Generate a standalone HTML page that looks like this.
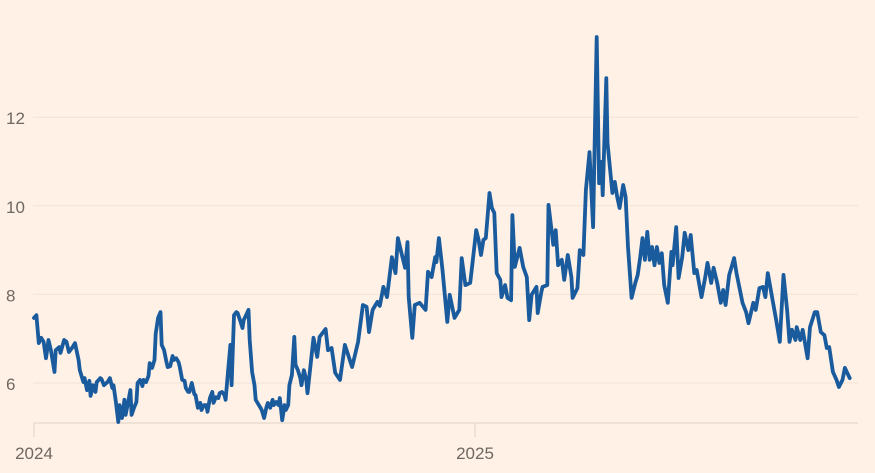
<!DOCTYPE html>
<html><head><meta charset="utf-8">
<style>
html,body{margin:0;padding:0;background:#fff1e5;}
svg{display:block;font-family:"Liberation Sans",sans-serif;}
</style></head>
<body>
<svg id="chart" width="875" height="473" viewBox="0 0 875 473"></svg>
<script>
const days=[0,2,4,6,8,10,12,14,17,18,21,22,25,27,29,32,34,37,38,41,42,44,46,47,49,51,52,55,56,58,61,63,65,66,68,70,71,73,75,76,78,80,81,83,85,86,88,90,91,93,95,96,98,100,101,103,105,106,108,110,111,113,115,116,118,120,121,123,125,126,128,129,131,133,134,136,138,139,141,143,144,146,148,149,151,153,154,156,158,159,161,163,164,166,168,169,171,173,174,176,178,179,181,183,184,186,188,189,191,193,194,196,198,199,201,203,204,206,208,209,211,212,214,216,217,219,221,222,224,226,227,232,235,237,242,244,247,250,254,258,264,269,273,276,278,281,285,287,290,293,297,300,302,305,308,310,311,314,316,320,325,327,330,333,334,336,339,343,345,349,353,355,358,362,364,367,369,371,373,375,378,380,382,384,387,388,391,393,396,397,399,403,406,409,411,413,417,418,421,422,426,427,431,433,435,438,440,443,446,447,451,453,456,458,461,462,464,465,467,469,471,472,475,476,480,482,484,486,489,491,493,496,499,501,503,505,507,509,511,513,515,517,519,521,523,526,529,530,533,535,538,540,543,545,548,550,554,557,559,562,564,567,570,572,574,577,579,581,583,588,591,593,597,599,602,605,607,609,613,616,619,622,625,627,629,632,633,636,638,642,644,648,650,653,656,658,660,663,666,668,671,673,677];
const values=[7.47,7.53,6.90,7.02,6.93,6.56,6.97,6.74,6.25,6.74,6.81,6.68,6.97,6.93,6.70,6.81,6.90,6.52,6.29,6.02,6.11,5.84,6.05,5.71,5.95,5.80,6.02,6.11,6.09,5.95,6.02,6.11,5.89,5.95,5.57,5.12,5.50,5.21,5.62,5.28,5.55,5.84,5.28,5.44,5.57,6.00,6.07,5.93,6.07,6.02,6.16,6.45,6.34,6.52,7.11,7.47,7.60,6.86,6.74,6.47,6.36,6.38,6.61,6.52,6.56,6.47,6.36,6.07,6.05,5.89,5.80,5.80,6.00,5.75,5.73,5.44,5.55,5.39,5.50,5.50,5.35,5.66,5.80,5.55,5.68,5.66,5.77,5.80,5.73,5.62,6.25,6.86,5.95,7.53,7.60,7.58,7.42,7.24,7.42,7.53,7.65,6.97,6.25,5.95,5.62,5.53,5.44,5.39,5.21,5.46,5.55,5.44,5.62,5.50,5.57,5.50,5.66,5.16,5.50,5.39,5.50,5.95,6.18,7.04,6.41,6.29,6.11,5.95,6.29,6.07,5.77,7.02,6.59,7.04,7.22,6.74,6.79,6.23,6.07,6.86,6.36,6.93,7.76,7.72,7.15,7.65,7.83,7.74,8.17,7.94,8.84,8.48,9.27,8.93,8.60,9.18,7.94,7.02,7.76,7.81,7.65,8.51,8.39,8.84,8.73,9.27,8.55,7.38,7.99,7.47,7.65,8.82,8.21,8.26,8.73,9.45,9.23,8.89,9.23,9.27,10.29,9.95,9.84,8.48,8.33,7.94,8.21,7.92,7.87,9.79,8.62,9.05,8.62,8.39,7.42,7.99,8.17,7.58,8.05,8.17,8.21,10.02,9.12,9.45,8.66,8.78,8.33,8.89,8.39,7.92,8.14,9.00,8.89,10.36,11.21,10.65,9.52,10.97,13.81,10.51,10.99,10.24,12.88,11.42,10.29,10.54,10.20,9.95,10.47,10.20,9.07,7.92,8.26,8.44,8.82,9.27,8.78,9.41,8.78,9.07,8.66,9.07,8.71,8.93,8.21,7.81,8.96,8.66,9.52,8.37,8.84,9.39,9.00,9.34,8.48,8.55,7.94,8.37,8.71,8.26,8.60,8.26,7.81,8.10,7.76,8.44,8.62,8.82,8.48,7.81,7.60,7.35,7.81,7.65,8.14,8.17,7.94,8.48,7.87,7.42,6.93,8.44,7.65,6.93,7.20,6.97,7.26,6.97,7.20,6.56,7.26,7.60,7.60,7.15,7.08,6.79,6.81,6.25,6.07,5.91,6.07,6.34,6.11];
const yTicks=[6,8,10,12];
const xTickDays=[0,366];
const xTickLabels=["2024","2025"];

const NS="http://www.w3.org/2000/svg";
const svg=document.getElementById('chart');
const xS=d=>34+d*441/366;
const yS=v=>383-(v-6)*44.3;
function mk(t,a){const e=document.createElementNS(NS,t);for(const k in a)e.setAttribute(k,a[k]);svg.appendChild(e);return e;}

yTicks.forEach(v=>{
  const g=mk('line',{x1:33,x2:858,y1:yS(v),y2:yS(v),stroke:'#f2e3d6','stroke-width':1});
  
  
  const t=mk('text',{x:6,y:yS(v)+7,fill:'#6e6862','font-size':17});
  t.textContent=v;
  
  
});
const ax=mk('line',{x1:34,x2:858,y1:423,y2:423,stroke:'#ddd2c8','stroke-width':1});


xTickDays.forEach((d,i)=>{
  const tk=mk('line',{x1:xS(d),x2:xS(d),y1:423,y2:437,stroke:'#ddd2c8','stroke-width':1});
  
  
  const t=mk('text',{x:xS(d),y:459,fill:'#6e6862','font-size':17,'text-anchor':'middle'});
  t.textContent=xTickLabels[i];
  
  
});
const pts=days.map((d,i)=>xS(d).toFixed(1)+','+yS(values[i]).toFixed(1)).join(' ');
const pl=mk('polyline',{points:pts,fill:'none',stroke:'#1a5b9e','stroke-width':3.8,'stroke-linejoin':'round','stroke-linecap':'round'});


</script>
</body></html>
